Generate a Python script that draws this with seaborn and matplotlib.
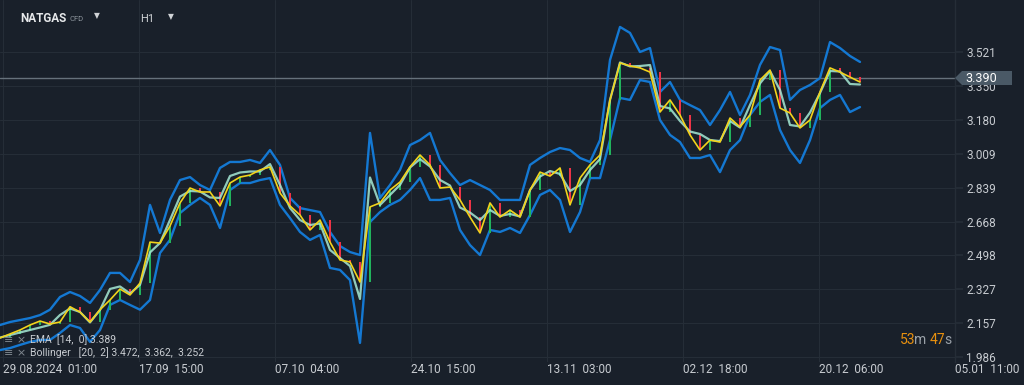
import matplotlib
matplotlib.use("Agg")
import matplotlib.pyplot as plt
from matplotlib.patches import Polygon
import numpy as np
import pandas as pd
import seaborn as sns

# NATGAS CFD, H1 - closes every 10 bars
close = [2.083, 2.103, 2.123, 2.148, 2.168, 2.153, 2.163, 2.240, 2.213, 2.163,
         2.225, 2.274, 2.329, 2.299, 2.359, 2.565, 2.560, 2.646, 2.762, 2.837,
         2.817, 2.817, 2.747, 2.862, 2.892, 2.902, 2.928, 2.943, 2.812, 2.747,
         2.701, 2.626, 2.676, 2.565, 2.475, 2.465, 2.364, 2.742, 2.762, 2.827,
         2.867, 2.943, 3.003, 2.953, 2.837, 2.842, 2.777, 2.691, 2.611, 2.762,
         2.691, 2.726, 2.691, 2.827, 2.917, 2.897, 2.938, 2.752, 2.887, 2.953,
         3.003, 3.280, 3.466, 3.451, 3.441, 3.420, 3.219, 3.280, 3.204, 3.104,
         3.028, 3.078, 3.068, 3.189, 3.144, 3.204, 3.380, 3.430, 3.239, 3.214,
         3.139, 3.179, 3.320, 3.441, 3.420, 3.395, 3.370]

bb_upper = [2.148, 2.163, 2.173, 2.183, 2.198, 2.225, 2.289, 2.314, 2.294, 2.259,
            2.324, 2.410, 2.410, 2.364, 2.475, 2.752, 2.611, 2.777, 2.877, 2.892,
            2.852, 2.827, 2.938, 2.968, 2.968, 2.978, 2.963, 3.028, 2.953, 2.787,
            2.736, 2.726, 2.716, 2.616, 2.545, 2.515, 2.500, 3.114, 2.787, 2.852,
            2.928, 3.053, 3.078, 3.114, 2.978, 2.912, 2.852, 2.877, 2.852, 2.827,
            2.777, 2.777, 2.777, 2.953, 2.988, 3.018, 3.038, 3.028, 2.988, 2.968,
            3.078, 3.481, 3.647, 3.617, 3.521, 3.541, 3.320, 3.370, 3.280, 3.254,
            3.229, 3.154, 3.229, 3.320, 3.204, 3.305, 3.456, 3.546, 3.531, 3.280,
            3.330, 3.355, 3.390, 3.571, 3.541, 3.501, 3.471]

bb_lower = [2.022, 2.032, 2.048, 2.063, 2.073, 2.073, 2.108, 2.148, 2.133, 2.063,
            2.123, 2.249, 2.274, 2.249, 2.225, 2.274, 2.510, 2.576, 2.711, 2.752,
            2.787, 2.752, 2.636, 2.827, 2.862, 2.862, 2.877, 2.887, 2.752, 2.686,
            2.616, 2.576, 2.601, 2.435, 2.425, 2.374, 2.058, 2.666, 2.716, 2.752,
            2.777, 2.827, 2.887, 2.777, 2.777, 2.787, 2.626, 2.550, 2.500, 2.626,
            2.616, 2.636, 2.611, 2.701, 2.802, 2.827, 2.777, 2.616, 2.716, 2.887,
            2.887, 3.078, 3.290, 3.280, 3.380, 3.370, 3.179, 3.104, 3.068, 2.988,
            2.988, 3.003, 2.917, 3.028, 3.078, 3.204, 3.270, 3.305, 3.129, 3.028,
            2.963, 3.078, 3.239, 3.280, 3.305, 3.219, 3.244]

price_ticks = [1.986, 2.157, 2.327, 2.498, 2.668, 2.839, 3.009, 3.180, 3.350, 3.521]
date_labels = ["29.08.2024  01:00", "17.09  15:00", "07.10  04:00", "24.10  15:00",
               "13.11  03:00", "02.12  18:00", "20.12  06:00", "05.01  11:00"]
date_pos = [0.3, 13.9, 27.5, 41.1, 54.7, 68.3, 81.9, 95.5]
last_price = 3.390
ema_last = 3.389
bb_last = [3.472, 3.362, 3.252]

BG = "#19202a"
GRID = "#252d37"
TXT = "#c8ccd1"

df = pd.DataFrame({"bar": np.arange(len(close)), "close": close,
                   "upper": bb_upper, "lower": bb_lower})
df["middle"] = (df["upper"] + df["lower"]) / 2
df["open"] = df["close"].shift(1).fillna(df["close"].iloc[0])

sns.set_theme(style="dark", rc={"axes.facecolor": BG, "figure.facecolor": BG})
plt.rcParams["font.family"] = ["Roboto", "DejaVu Sans"]

W, H = 1024, 385
fig = plt.figure(figsize=(W / 100, H / 100), dpi=100)
ax = fig.add_axes([0, 1 - 362 / H, 955 / W, 362 / H])


def fpx(x, y):
    # pixel position (from top-left) -> figure fraction
    return x / W, 1 - y / H


# bollinger bands
sns.lineplot(data=df, x="bar", y="upper", ax=ax, color="#1478d2", lw=1.7, zorder=2)
sns.lineplot(data=df, x="bar", y="lower", ax=ax, color="#1478d2", lw=1.7, zorder=2)

# candles (body from previous close to close)
up = df["close"] >= df["open"]
body = (df["close"] - df["open"]).abs().clip(lower=0.006)
ax.bar(df["bar"], body, bottom=np.minimum(df["open"], df["close"]), width=0.28,
       color=np.where(up, "#21b35c", "#ee3346"), zorder=3, linewidth=0)

sns.lineplot(data=df, x="bar", y="middle", ax=ax, color="#a6ead6", lw=1.6, alpha=0.85, zorder=4)
sns.lineplot(data=df, x="bar", y="close", ax=ax, color="#f2d31b", lw=1.2, zorder=5)

# last price line
ax.axhline(last_price, color="#66717b", lw=1.0, zorder=1)

ax.set_xlim(0, 95.5)
ax.set_ylim(1.962, 3.7825)
ax.set_xlabel("")
ax.set_ylabel("")

ax.yaxis.tick_right()
ax.set_yticks(price_ticks)
ax.set_yticklabels([f"{v:.3f}" for v in price_ticks])
ax.set_xticks(date_pos)
ax.set_xticklabels(date_labels, ha="left")
ax.tick_params(axis="y", length=6, color=GRID, pad=2, labelsize=8.5, labelcolor=TXT)
ax.tick_params(axis="x", length=0, pad=1, labelsize=8.5, labelcolor=TXT)
ax.grid(True, color=GRID, lw=0.8)
for s in ["top", "left", "bottom"]:
    ax.spines[s].set_visible(False)
ax.spines["right"].set_color(GRID)
ax.spines["right"].set_linewidth(1.0)

# price label box on the axis
box = Polygon([fpx(955, 78), fpx(962, 71), fpx(1012, 71), fpx(1012, 85), fpx(962, 85)],
              closed=True, transform=fig.transFigure, fc="#4a5966", ec="none", zorder=10)
fig.patches.append(box)
fig.text(*fpx(965, 78.5), f"{last_price:.3f}", color="white", fontsize=9,
         ha="left", va="center", zorder=11)

# header
fig.text(*fpx(20, 19), "NATGAS", color="#e6e8ea", fontsize=8.5, fontweight="bold", va="center")
fig.text(*fpx(70, 19), "CFD", color="#8c949c", fontsize=5.5, va="center")
fig.text(*fpx(97, 16), "▼", color="#d0d3d6", fontsize=5.5, va="center", ha="center",
         family=["DejaVu Sans"])
fig.text(*fpx(140, 19), "H1", color="#d0d3d6", fontsize=8, va="center")
fig.text(*fpx(171, 17), "▼", color="#d0d3d6", fontsize=5.5, va="center", ha="center",
         family=["DejaVu Sans"])

# indicator legend
fig.text(*fpx(4, 340), "≡ ×", color="#7e868e", fontsize=8, va="center", family=["DejaVu Sans"])
fig.text(*fpx(4, 353), "≡ ×", color="#7e868e", fontsize=8, va="center", family=["DejaVu Sans"])
fig.text(*fpx(30, 340), f"EMA  [14,  0] {ema_last:.3f}", color=TXT, fontsize=7.5, va="center")
fig.text(*fpx(30, 353), "Bollinger   [20,  2] " + ",  ".join(f"{v:.3f}" for v in bb_last),
         color=TXT, fontsize=7.5, va="center")

# candle countdown
ORANGE = "#e8900e"
fig.text(*fpx(900, 340), "53", color=ORANGE, fontsize=10, va="center")
fig.text(*fpx(914, 340), "m", color="#9aa1a8", fontsize=10, va="center")
fig.text(*fpx(930, 340), "47", color=ORANGE, fontsize=10, va="center")
fig.text(*fpx(944, 340), "s", color="#9aa1a8", fontsize=10, va="center")

fig.savefig("out.png", dpi=100, facecolor=BG)
